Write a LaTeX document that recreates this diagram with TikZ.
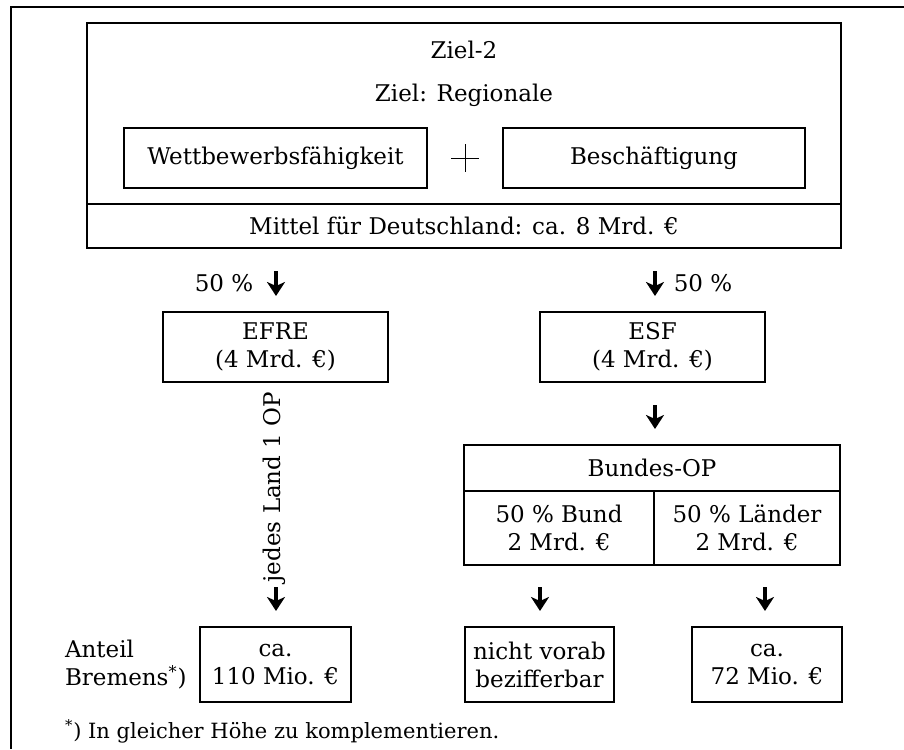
\documentclass[tikz,border=0pt]{standalone}
\usepackage{fontspec}
\setmainfont{DejaVu Serif}
\usepackage{tikz}
\usetikzlibrary{arrows.meta,positioning}

\begin{document}
\begin{tikzpicture}[
  x=0.5pt, y=-0.5pt,
  every node/.style = {font=\fontsize{11.5}{14}\selectfont, align=center,
      inner sep=0pt, outer sep=0pt},
  kasten/.style = {rectangle, draw, line width=0.6pt},
  pfeil/.style = {line width=2pt, -{Stealth[length=7pt, width=9pt, inset=2pt]}}
]

  \useasboundingbox (0,0) rectangle (904,749);

  % Rahmen (oben und links)
  \coordinate (rahmenA) at (904,7);
  \coordinate (rahmenB) at (11,7);
  \coordinate (rahmenC) at (11,749);
  \draw[line width=0.8pt] (rahmenA) -- (rahmenB) -- (rahmenC);

  % Ziel-2 Kasten
  \node[kasten, minimum width=377pt, minimum height=90.5pt] (ziel) at (464,113.5) {};
  \node (zielzwei) at (464,50) {Ziel-2};
  \node (regionale) at (464,95) {Ziel: Regionale};
  \node[kasten, minimum width=151.5pt, minimum height=30pt] (wettbewerb) at (275.5,158) {Wettbewerbsfähigkeit};
  \node[kasten, minimum width=151pt, minimum height=30pt] (beschaeftigung) at (654,158) {Beschäftigung};
  \node[minimum size=14pt] (plus) at (465,158) {};
  \draw[line width=0.4pt] (plus.north) -- (plus.south);
  \draw[line width=0.4pt] (plus.west) -- (plus.east);
  \node[kasten, minimum width=377pt, minimum height=22pt] (mittel) at (464,226)
    {Mittel für Deutschland: ca. 8 Mrd. €};

  % Aufteilung
  \node (efreanteil) at (224,283) {50 \%};
  \node (esfanteil) at (703,283) {50 \%};
  \coordinate (p1a) at (276,271);
  \coordinate (p1b) at (276,296);
  \coordinate (p2a) at (655,271);
  \coordinate (p2b) at (655,296);
  \draw[pfeil] (p1a) -- (p1b);
  \draw[pfeil] (p2a) -- (p2b);

  \node[kasten, minimum width=112.5pt, minimum height=35pt] (efre) at (275.5,347) {EFRE\\(4 Mrd. €)};
  \node[kasten, minimum width=112.5pt, minimum height=35pt] (esf) at (652.5,347) {ESF\\(4 Mrd. €)};

  % EFRE-Zweig
  \node[rotate=90] (jedes) at (274,487) {jedes Land 1 OP};
  \coordinate (p3a) at (276,587);
  \coordinate (p3b) at (276,611);
  \draw[pfeil] (p3a) -- (p3b);

  % ESF-Zweig
  \coordinate (p4a) at (655,405);
  \coordinate (p4b) at (655,429);
  \draw[pfeil] (p4a) -- (p4b);

  \node[kasten, minimum width=188pt, minimum height=23pt] (bundesop) at (652,468) {Bundes-OP};
  \node[kasten, minimum width=95pt, minimum height=37pt] (bund) at (559,528) {50 \% Bund\\2 Mrd. €};
  \node[kasten, minimum width=93pt, minimum height=37pt] (laender) at (747,528) {50 \% Länder\\2 Mrd. €};

  \coordinate (p5a) at (540,587);
  \coordinate (p5b) at (540,611);
  \coordinate (p6a) at (765,587);
  \coordinate (p6b) at (765,611);
  \draw[pfeil] (p5a) -- (p5b);
  \draw[pfeil] (p6a) -- (p6b);

  % Anteile Bremens
  \node[align=left, anchor=west] (anteil) at (65,665) {Anteil\\Bremens\textsuperscript{*})};
  \node[kasten, minimum width=75.5pt, minimum height=37.5pt] (bremen) at (275.5,664.5) {ca.\\110 Mio. €};
  \node[kasten, minimum width=74.5pt, minimum height=37.5pt] (vorab) at (539.5,664.5) {nicht vorab\\bezifferbar};
  \node[kasten, minimum width=75pt, minimum height=37.5pt] (laenderanteil) at (767,664.5) {ca.\\72 Mio. €};

  % Fussnote
  \node[anchor=west, font=\fontsize{10.5}{12}\selectfont] (fussnote) at (65,731)
    {\textsuperscript{*}) In gleicher Höhe zu komplementieren.};

\end{tikzpicture}
\end{document}
